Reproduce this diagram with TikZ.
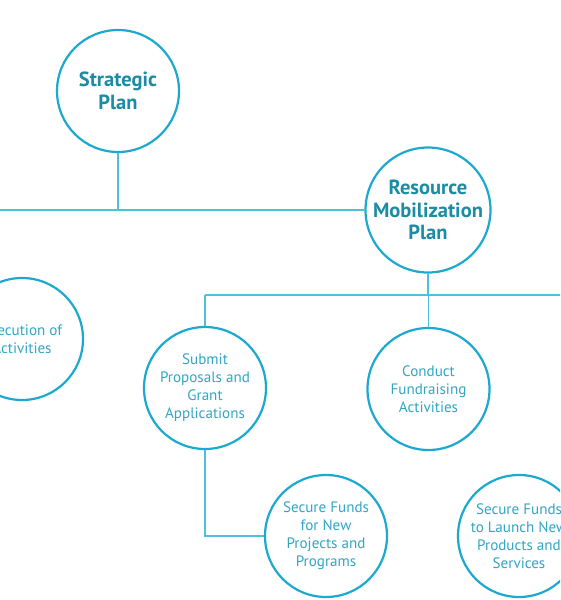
\documentclass[tikz,border=0pt]{standalone}
\usepackage{fontspec}
\setmainfont{PT Sans}
\definecolor{ring}{HTML}{1CA9CF}
\definecolor{wire}{HTML}{4EC0DD}
\definecolor{boldtxt}{HTML}{1A8CA3}
\definecolor{regtxt}{HTML}{33A6C4}
\tikzset{
  bubble/.style={circle, draw=ring, line width=2.2pt, minimum size=122pt, inner sep=0pt, align=center},
  mainbubble/.style={bubble, text=boldtxt, font=\fontsize{20.5}{22.5}\selectfont\bfseries},
  subbubble/.style={bubble, text=regtxt, font=\fontsize{15.1}{18}\selectfont},
  wireline/.style={draw=wire, line width=1.5pt}
}
\begin{document}
\begin{tikzpicture}[x=1pt,y=-1pt]
\useasboundingbox (0,0) rectangle (560,600);
\clip (0,0) rectangle (560,600);
\fill[white] (0,0) rectangle (560,600);
% nodes
\node[mainbubble] (sp) at (118,91) {Strategic\\Plan};
\node[mainbubble] (rm) at (428,210) {Resource\\Mobilization\\Plan};
\node[subbubble] (ex) at (22,339) {Execution of\\Activities};
\node[subbubble] (sub) at (205,388) {Submit\\Proposals and\\Grant\\Applications};
\node[subbubble] (con) at (428.5,389) {Conduct\\Fundraising\\Activities};
\node[subbubble] (sfn) at (326,536) {Secure Funds\\for New\\Projects and\\Programs};
\node[subbubble] (sfl) at (519,536) {Secure Funds\\to Launch New\\Products and\\Services};
% connector coordinates
\coordinate (leftend) at (-10,210);
\coordinate (busL) at (205,295);
\coordinate (busR) at (575,295);
% connectors
\draw[wireline] (sp.south) -- (sp.south |- rm.west);
\draw[wireline] (leftend) -- (rm.west);
\draw[wireline] (rm.south) -- (rm.south |- busL);
\draw[wireline] (busL) -- (busR);
\draw[wireline] (busL) -- (sub.north);
\draw[wireline] (con.north |- busL) -- (con.north);
\draw[wireline] (sub.south) -- (sub.south |- sfn.west) -- (sfn.west);
\end{tikzpicture}
\end{document}
